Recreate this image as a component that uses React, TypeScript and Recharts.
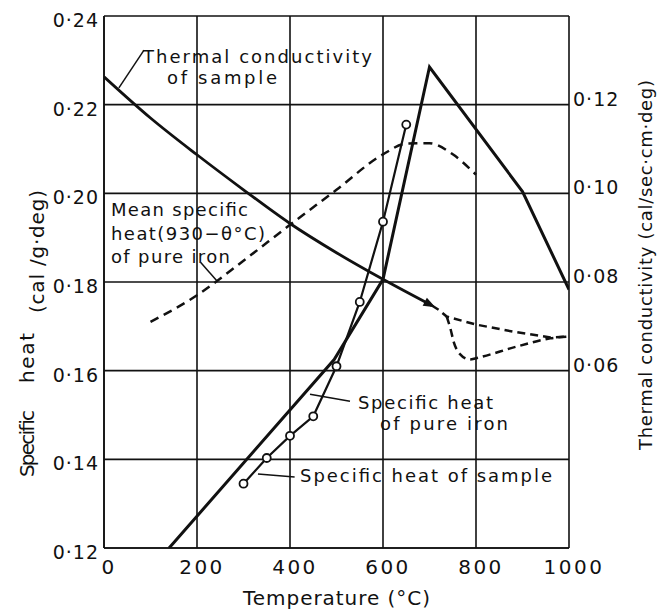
import { LineChart, Line, XAxis, YAxis, CartesianGrid, ReferenceLine } from 'recharts';

const FONT = '"DejaVu Sans", sans-serif';
const INK = '#111';

const tempTicks = [0, 200, 400, 600, 800, 1000];
const heatTicks = [0.12, 0.14, 0.16, 0.18, 0.2, 0.22, 0.24];
const condTicks = [0.06, 0.08, 0.1, 0.12];

// thermal conductivity of sample (right axis)
const condTemp = [0, 100, 200, 300, 400, 500, 600, 705];
const condValue = [0.1263, 0.117, 0.1087, 0.1008, 0.0932, 0.0866, 0.0806, 0.0747];
const condUpperTemp = [705, 720, 737, 800, 880, 960, 1000];
const condUpperValue = [0.0747, 0.0737, 0.0722, 0.0704, 0.0688, 0.0675, 0.0677];
const condLowerTemp = [737, 745, 752, 765, 787, 800, 890, 960, 1000];
const condLowerValue = [0.0722, 0.0695, 0.0665, 0.0638, 0.0625, 0.0628, 0.0655, 0.0673, 0.0677];

// mean specific heat (930-θ°C) of pure iron
const meanTemp = [100, 200, 300, 400, 500, 600, 650, 700, 750, 800];
const meanValue = [0.171, 0.177, 0.1848, 0.1929, 0.2008, 0.2088, 0.2112, 0.2113, 0.2088, 0.2042];

// specific heat of pure iron
const ironTemp = [140, 495, 600, 700, 900, 1000];
const ironValue = [0.12, 0.1625, 0.1806, 0.2285, 0.2004, 0.1783];

// specific heat of sample
const sampleTemp = [300, 350, 400, 450, 500, 550, 600, 650];
const sampleValue = [0.1345, 0.1403, 0.1453, 0.1497, 0.161, 0.1755, 0.1936, 0.2155];

const toPoints = (xs: number[], ys: number[]) => xs.map((x, i) => ({ x, y: ys[i] }));

const fmt = (v: number) => v.toFixed(2).replace('.', '·');

function XTick({ x, y, payload }: any) {
  return (
    <text x={x + 5} y={y + 18} textAnchor="middle" fontSize={20} letterSpacing={2.5} fontFamily={FONT} fill={INK}>
      {payload.value}
    </text>
  );
}

function LeftTick({ x, y, payload }: any) {
  return (
    <text x={x + 3} y={y + 11} textAnchor="end" fontSize={19} letterSpacing={1} fontFamily={FONT} fill={INK}>
      {fmt(payload.value)}
    </text>
  );
}

function RightTick({ x, y, payload }: any) {
  return (
    <text x={x - 4} y={y + 1} textAnchor="start" fontSize={19} letterSpacing={1} fontFamily={FONT} fill={INK}>
      {fmt(payload.value)}
    </text>
  );
}

function ArrowEnd(props: any) {
  const { cx, cy, index } = props;
  if (index !== condTemp.length - 1) return <g key={index} />;
  return (
    <polygon
      key={index}
      points="4,0 -8,-4.5 -8,4.5"
      transform={`translate(${cx},${cy}) rotate(28)`}
      fill={INK}
    />
  );
}

function Note({ x, y, w, children, size = 18 }: any) {
  return (
    <text x={x} y={y} fontSize={size} fontFamily={FONT} fill={INK} textLength={w} lengthAdjust="spacing">
      {children}
    </text>
  );
}

export default function App() {
  return (
    <div style={{ position: 'absolute', left: 0, top: 0, width: 663, height: 613, background: '#fff' }}>
      <LineChart width={663} height={613} margin={{ top: 16, right: 34, left: 44, bottom: 35 }}>
        <CartesianGrid yAxisId="left" stroke={INK} strokeWidth={1.6} />
        <XAxis
          dataKey="x"
          type="number"
          domain={[0, 1000]}
          ticks={tempTicks}
          height={30}
          tickLine={false}
          axisLine={{ stroke: INK, strokeWidth: 1.6 }}
          tick={<XTick />}
          allowDataOverflow
        />
        <YAxis
          yAxisId="left"
          type="number"
          domain={[0.12, 0.24]}
          ticks={heatTicks}
          width={60}
          tickLine={false}
          axisLine={{ stroke: INK, strokeWidth: 1.6 }}
          tick={<LeftTick />}
          allowDataOverflow
        />
        <YAxis
          yAxisId="right"
          orientation="right"
          type="number"
          domain={[0.02, 0.14]}
          ticks={condTicks}
          width={60}
          tickLine={false}
          axisLine={false}
          tick={<RightTick />}
          allowDataOverflow
        />

        <Line
          yAxisId="left"
          data={toPoints(meanTemp, meanValue)}
          dataKey="y"
          type="monotone"
          stroke={INK}
          strokeWidth={2.5}
          strokeDasharray="9 6"
          dot={false}
          isAnimationActive={false}
        />
        <Line
          yAxisId="left"
          data={toPoints(ironTemp, ironValue)}
          dataKey="y"
          type="linear"
          stroke={INK}
          strokeWidth={3}
          dot={false}
          isAnimationActive={false}
        />
        <Line
          yAxisId="left"
          data={toPoints(sampleTemp, sampleValue)}
          dataKey="y"
          type="linear"
          stroke={INK}
          strokeWidth={2.2}
          dot={{ r: 4, stroke: INK, strokeWidth: 1.8, fill: '#fff' }}
          isAnimationActive={false}
        />
        <Line
          yAxisId="right"
          data={toPoints(condTemp, condValue)}
          dataKey="y"
          type="monotone"
          stroke={INK}
          strokeWidth={2.8}
          dot={<ArrowEnd />}
          isAnimationActive={false}
        />
        <Line
          yAxisId="right"
          data={toPoints(condUpperTemp, condUpperValue)}
          dataKey="y"
          type="linear"
          stroke={INK}
          strokeWidth={2.5}
          strokeDasharray="8 5"
          dot={false}
          isAnimationActive={false}
        />
        <Line
          yAxisId="right"
          data={toPoints(condLowerTemp, condLowerValue)}
          dataKey="y"
          type="monotone"
          stroke={INK}
          strokeWidth={2.5}
          strokeDasharray="8 5"
          dot={false}
          isAnimationActive={false}
        />

        {/* leader lines for the notes */}
        <ReferenceLine yAxisId="left" segment={[{ x: 32, y: 0.2238 }, { x: 86, y: 0.2323 }]} stroke={INK} strokeWidth={1.5} />
        <ReferenceLine yAxisId="left" segment={[{ x: 208, y: 0.1844 }, { x: 244, y: 0.1801 }]} stroke={INK} strokeWidth={1.5} />
        <ReferenceLine yAxisId="left" segment={[{ x: 443, y: 0.1547 }, { x: 529, y: 0.1531 }]} stroke={INK} strokeWidth={1.5} />
        <ReferenceLine yAxisId="left" segment={[{ x: 331, y: 0.1367 }, { x: 410, y: 0.136 }]} stroke={INK} strokeWidth={1.5} />
      </LineChart>

      <svg width={663} height={613} style={{ position: 'absolute', left: 0, top: 0, pointerEvents: 'none' }}>
        <Note x={143} y={63} w={229}>Thermal conductivity</Note>
        <Note x={167} y={84} w={110}>of sample</Note>
        <Note x={111} y={216} w={137}>Mean specific</Note>
        <Note x={111} y={240} w={154}>heat(930−θ°C)</Note>
        <Note x={111} y={263} w={119}>of pure iron</Note>
        <Note x={358} y={409} w={135}>Specific heat</Note>
        <Note x={380} y={430} w={128}>of pure iron</Note>
        <Note x={300} y={482} w={252}>Specific heat of sample</Note>
        <Note x={243} y={605} w={187} size={20}>Temperature (°C)</Note>

        <g transform="translate(34,477) rotate(-90)">
          <Note x={0} y={0} w={67} size={20}>Specific</Note>
          <Note x={94} y={0} w={50} size={20}>heat</Note>
        </g>
        <g transform="translate(44,313) rotate(-90)">
          <Note x={0} y={0} w={123} size={20}>(cal /g·deg)</Note>
        </g>
        <g transform="translate(652,450) rotate(-90)">
          <Note x={0} y={0} w={370}>Thermal conductivity (cal/sec·cm·deg)</Note>
        </g>
      </svg>
    </div>
  );
}
